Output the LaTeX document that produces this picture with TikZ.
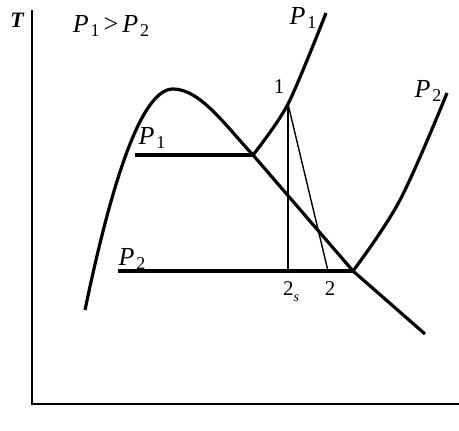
\documentclass[tikz,border=0pt]{standalone}
\usepackage{fontspec}
\setmainfont{Liberation Serif}
\usepackage{tikz}
\usetikzlibrary{positioning, calc}

\newcommand{\pres}[1]{\textit{P}\kern1pt\raisebox{-0.4ex}{\fontsize{9}{10}\selectfont #1}}

\begin{document}
\begin{tikzpicture}[
    x=0.5pt, y=-0.5pt,
    axis/.style={line width=1pt},
    curve/.style={line width=1.6pt, line join=round},
    thin/.style={line width=0.7pt},
    lbl/.style={inner sep=0pt, font=\fontsize{13}{15}\selectfont},
    num/.style={inner sep=0pt, font=\fontsize{10.5}{12}\selectfont}
]
    \useasboundingbox (0,0) rectangle (459,431);
    % axes
    \coordinate (top) at (32,10);
    \coordinate (origin) at (32,404);
    \coordinate (right) at (459,404);
    \draw[axis] (top) -- (origin) -- (right);
    \node[num, font=\fontsize{11}{12}\selectfont\bfseries\itshape] (tlabel) at (17,20) {T};
    \node[lbl] (cond) at (111,26) {\pres{1}\kern2pt>\kern2pt\pres{2}};

    % key points
    \coordinate (peak) at (173,89);
    \coordinate (sat1) at (253,155);
    \coordinate (sat2) at (353,271);
    \coordinate (pt1) at (288,104);
    \coordinate (pt2s) at (288,271);
    \coordinate (pt2) at (328,271);
    \coordinate (p1start) at (135,155);
    \coordinate (p2start) at (118,271);

    % saturation dome
    \draw[curve] (85,310) .. controls (110,190) and (140,89) .. (peak)
        .. controls (200,89) and (225,125) .. (sat1) -- (sat2) -- (425,334);

    % isobars
    \draw[curve] (p1start) -- (sat1);
    \draw[curve] plot[smooth, tension=0.5] coordinates {(sat1) (pt1) (326,13)};
    \draw[curve] (p2start) -- (sat2);
    \draw[curve] plot[smooth, tension=0.6] coordinates {(sat2) (400,200) (447,93)};

    % expansion
    \draw[thin] (pt1) -- (pt2s);
    \draw[thin] (pt1) -- (pt2);

    % labels
    \node[lbl] (p1low) at (152,138) {\pres{1}};
    \node[lbl] (p2low) at (132,259) {\pres{2}};
    \node[lbl] (p1top) at (303,18) {\pres{1}};
    \node[lbl] (p2top) at (428,91) {\pres{2}};
    \node[num] (one) at (279,87) {1};
    \node[num] (twos) at (291,292) {2\raisebox{-0.6ex}{\fontsize{7}{8}\selectfont\textit{s}}};
    \node[num] (two) at (330,289) {2};
\end{tikzpicture}
\end{document}
